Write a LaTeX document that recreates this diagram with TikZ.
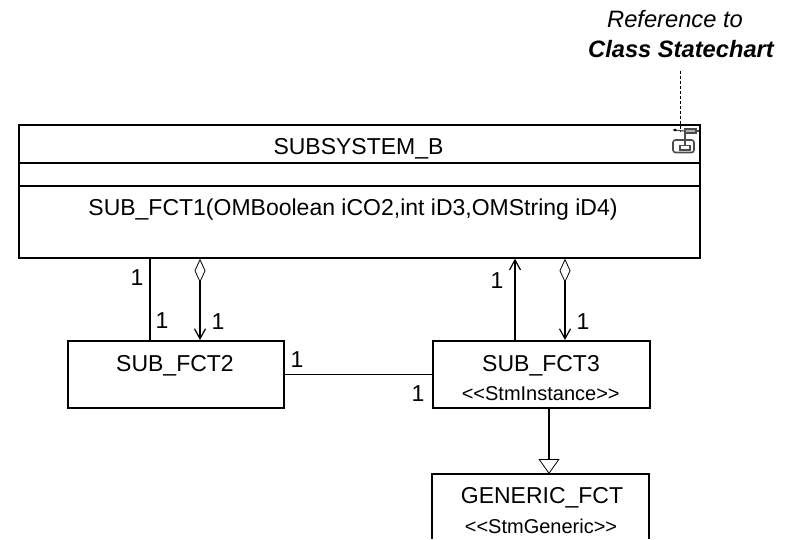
\documentclass[tikz,border=0pt]{standalone}
\usepackage{fontspec}
\setmainfont[Ligatures=NoCommon]{Liberation Sans}
\usetikzlibrary{arrows.meta,calc}
\tikzset{
  x=1pt,y=-1pt,
  umlbox/.style={draw=black,line width=1.7pt,rectangle,inner sep=0pt,anchor=north west},
  assoc/.style={draw=black,line width=1.7pt},
  card/.style={font=\fontsize{23}{26}\selectfont,inner sep=0pt,anchor=base},
  cname/.style={font=\fontsize{23}{26}\selectfont,inner sep=0pt,anchor=base},
  stereo/.style={font=\fontsize{20}{22}\selectfont,inner sep=0pt,anchor=base},
  note/.style={font=\fontsize{23.7}{26}\selectfont\itshape,inner sep=0pt,anchor=base},
  openarrow/.style={-{Straight Barb[length=10pt,width=11pt,line width=1.2pt]}},
  aggr/.style={{Diamond[open,length=24pt,width=11pt,line width=0.8pt,fill=white]}-{Straight Barb[length=10pt,width=11pt,line width=1.2pt]}},
  inherit/.style={-{Triangle[open,length=15pt,width=21pt,line width=0.8pt,fill=white]}},
}
\begin{document}
\begin{tikzpicture}
\useasboundingbox (0,0) rectangle (787,539);
% class boxes
\node[umlbox,minimum width=681pt,minimum height=133pt] (main) at (18,124) {};
\draw[line width=1.7pt] ($(main.north west)+(0,39)$) coordinate (d1) -- (d1 -| main.east);
\draw[line width=1.7pt] ($(main.north west)+(0,62)$) coordinate (d2) -- (d2 -| main.east);
\node[cname] (mainname) at (358.5,154) {SUBSYSTEM\_B};
\node[cname] (mainop) at (353,215) {SUB\_FCT1(OMBoolean iCO2,int iD3,OMString iD4)};
\node[umlbox,minimum width=216pt,minimum height=67pt] (f2) at (67,340) {};
\node[cname] (f2name) at (175,371) {SUB\_FCT2};
\node[umlbox,minimum width=217pt,minimum height=67pt] (f3) at (432,340) {};
\node[cname] (f3name) at (541,371) {SUB\_FCT3};
\node[stereo] (f3st) at (540.7,400) {<{}<StmInstance>{}>};
% generic box: open at the bottom edge of the picture
\coordinate (gnw) at (432,474);
\coordinate (gne) at (649,474);
\node[inner sep=0pt,minimum size=0pt] (g) at (549,474) {};
\draw[line width=1.7pt] (432,539) -- (gnw) -- (gne) -- (649,539);
\node[cname] (gname) at (542,503) {GENERIC\_FCT};
\node[stereo] (gst) at (541,533) {<{}<StmGeneric>{}>};
% connectors
\draw[assoc] ($(f2.north west)+(83,0)$) coordinate (a) -- (a |- main.south);
\draw[assoc,aggr] ($(main.south west)+(182,0)$) coordinate (b) -- (b |- f2.north);
\draw[assoc] (f2.east) -- (f2.east -| f3.west);
\draw[assoc,openarrow] ($(f3.north west)+(83,0)$) coordinate (c) -- (c |- main.south);
\draw[assoc,aggr] ($(main.south west)+(547,0)$) coordinate (e) -- (e |- f3.north);
\draw[assoc,inherit] ($(f3.south west)+(117,0)$) coordinate (h) -- (g.center);
% cardinalities
\node[card] (c1) at (137,285) {1};
\node[card] (c2) at (162,328) {1};
\node[card] (c3) at (218,329) {1};
\node[card] (c4) at (297,367) {1};
\node[card] (c5) at (418,401) {1};
\node[card] (c6) at (497,288) {1};
\node[card] (c7) at (583,329) {1};
% note
\node[note] (n1) at (675,27) {Reference to};
\node[note,font=\fontsize{23.7}{26}\selectfont\itshape\bfseries] (n2) at (681,57) {Class Statechart};
\coordinate (iconp) at (680.5,131);
\coordinate (nt) at (680.5,70.5);
\draw[line width=0.7pt,densely dashed] (nt) -- (iconp);
% statechart icon
\draw[line width=1.6pt,black!70,rounded corners=2.5pt] (673,140) rectangle (694,152.5);
\draw[line width=1.3pt,black!70] (680,145.5) rectangle (690,150);
\draw[line width=1.2pt,black!70] (685,133) -- (685,145.5);
\draw[line width=1.3pt,black!70,fill=black!30] (685,129) rectangle (696,133);
\draw[line width=1.2pt,black!70] (673,130) -- (685,131);
\fill[black] (675,130) circle (1.5pt);
\draw[line width=1.2pt,black!70] (696,131) -- (699,131);
\end{tikzpicture}
\end{document}
